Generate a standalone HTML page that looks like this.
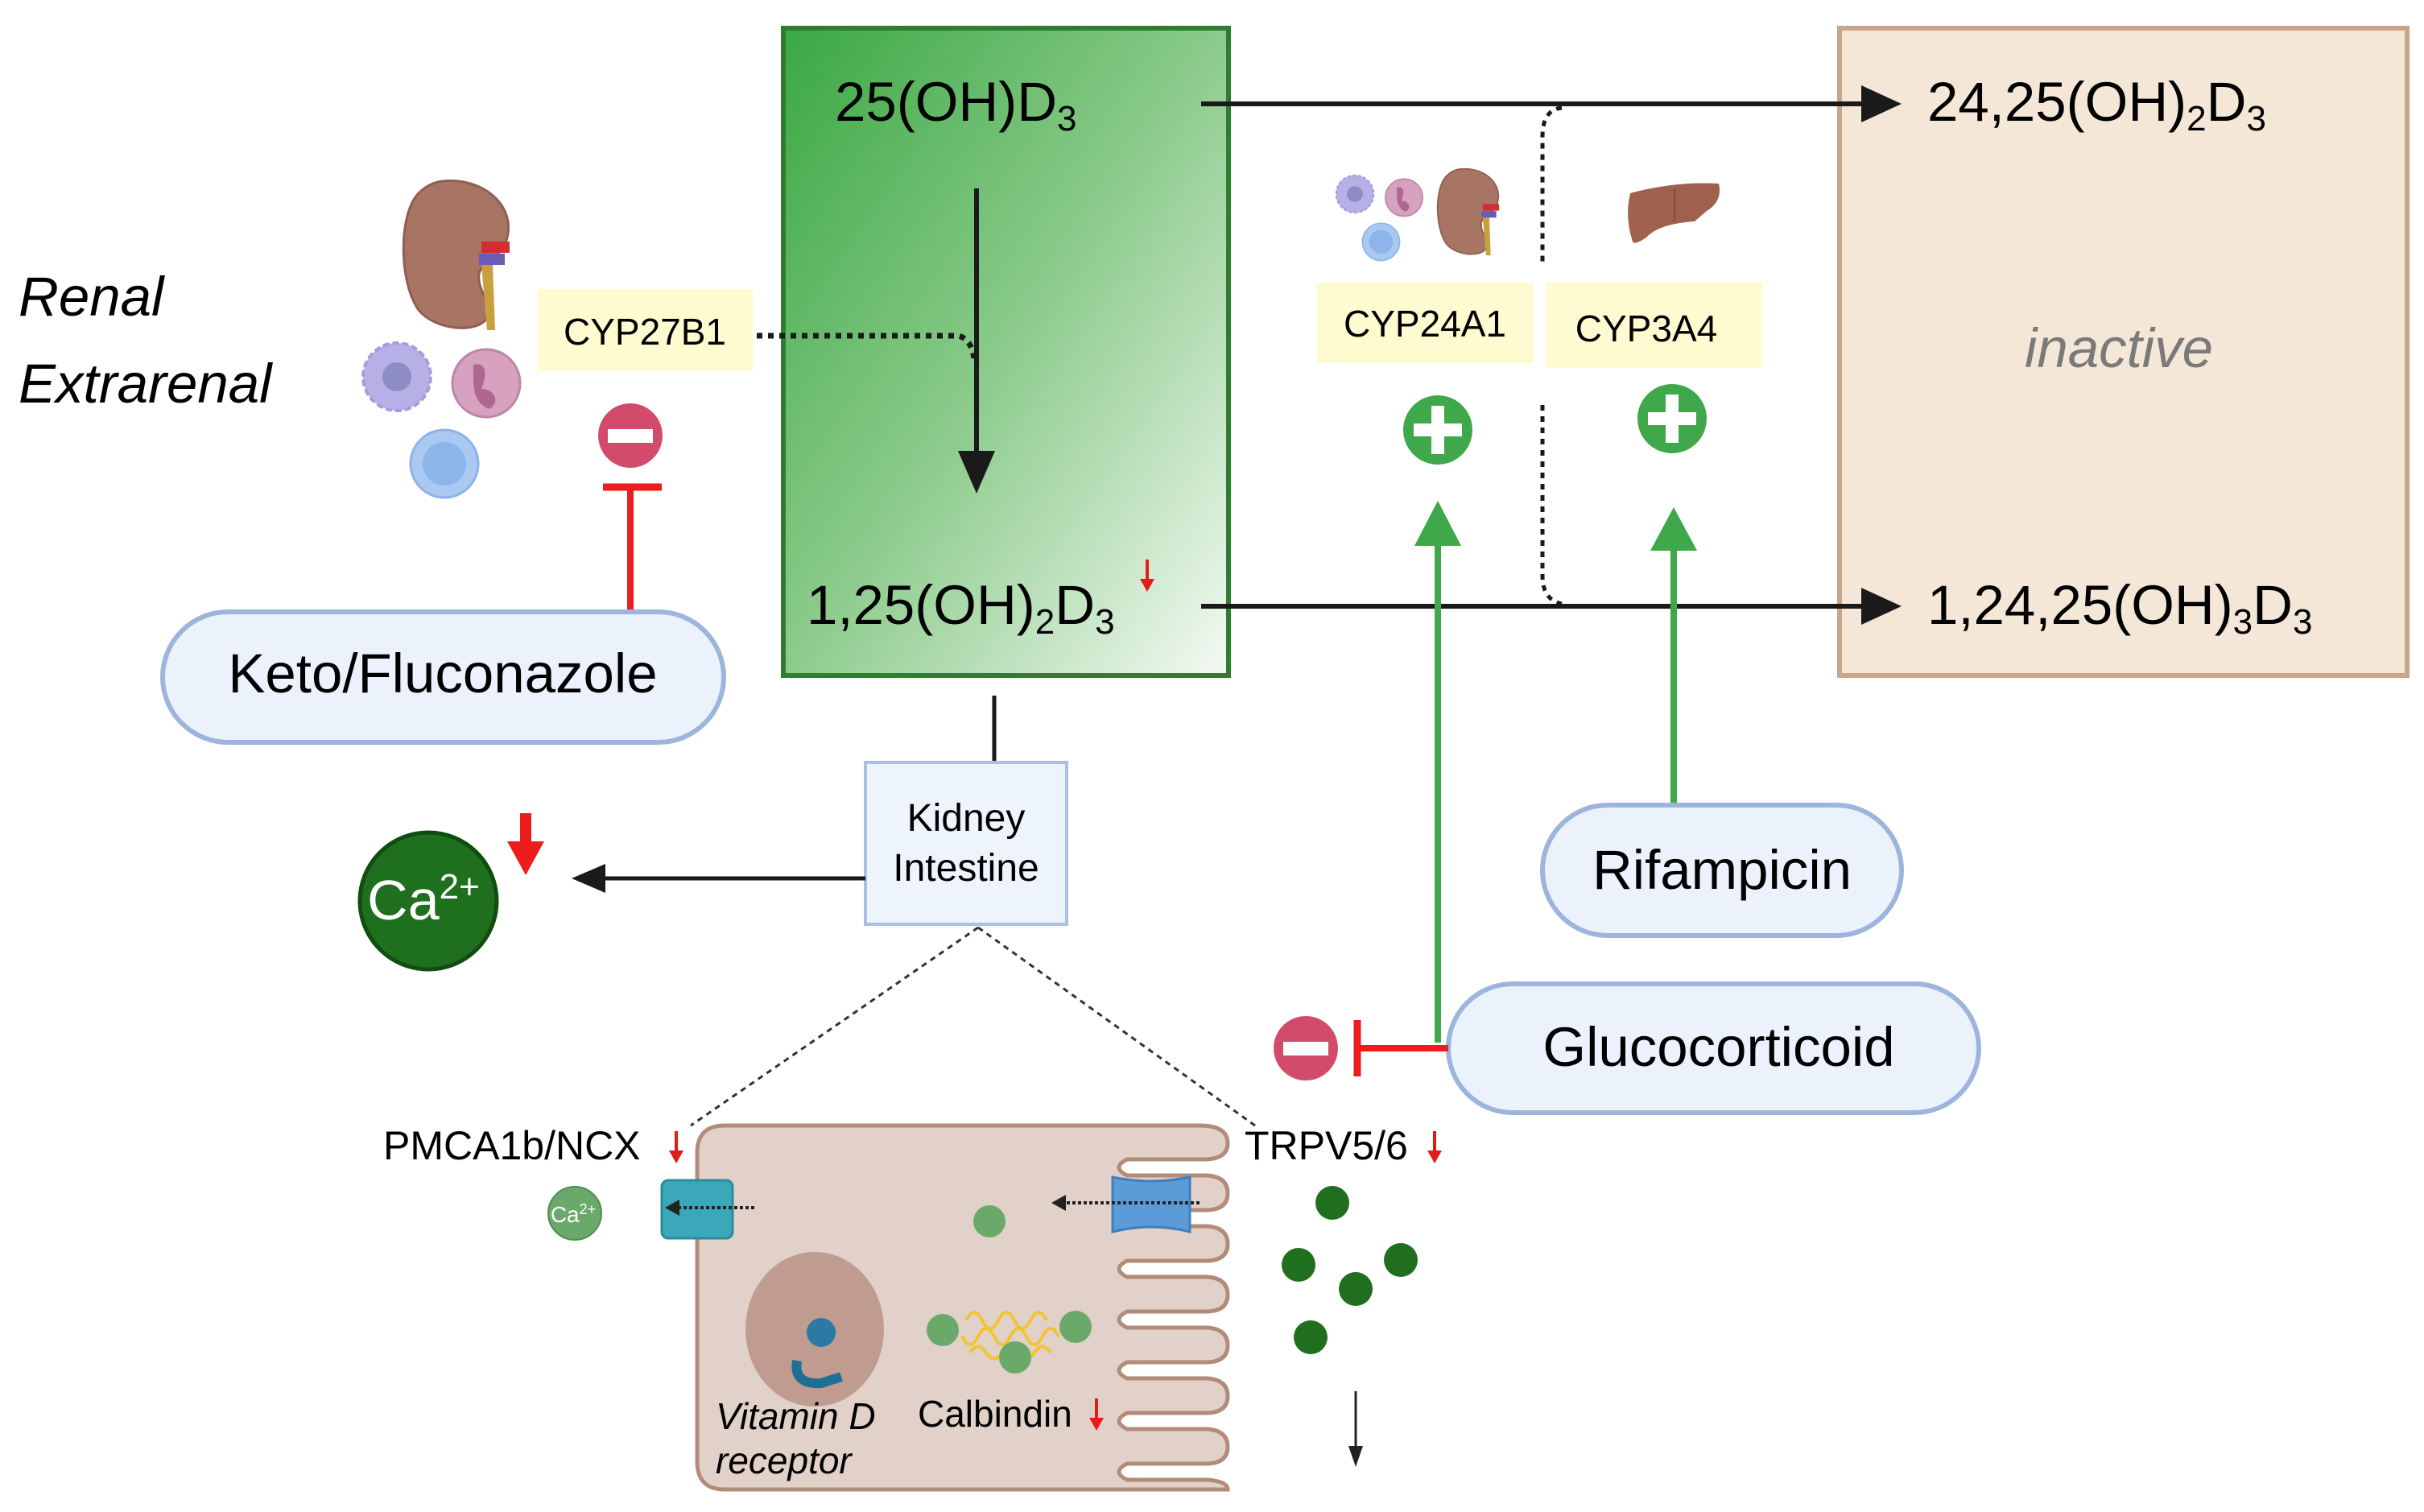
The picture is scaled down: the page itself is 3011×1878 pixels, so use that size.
<!DOCTYPE html>
<html><head><meta charset="utf-8"><style>
html,body{margin:0;padding:0;background:#fff}
svg{display:block}
text{font-family:"Liberation Sans",sans-serif}
</style></head><body>
<svg width="3011" height="1878" viewBox="0 0 3011 1878" xmlns="http://www.w3.org/2000/svg">
<defs>
<linearGradient id="gg" x1="0" y1="0" x2="1" y2="1">
<stop offset="0" stop-color="#3aa843"/><stop offset="0.5" stop-color="#8ccb8c"/><stop offset="1" stop-color="#f4faf3"/>
</linearGradient>
<g id="kid">
<path d="M50,0 C100,-5 140,30 130,70 C125,95 100,95 95,115 C92,140 115,150 105,170 C92,190 40,185 20,160 C-5,125 -5,40 20,15 C30,5 40,1 50,0Z" fill="#a87565" stroke="#8f5e50" stroke-width="3"/>
<rect x="98" y="75" width="35" height="14" fill="#d52b32"/>
<rect x="95" y="90" width="32" height="14" fill="#6a5bb5"/>
<path d="M98,104 L112,104 L115,185 L105,185Z" fill="#c9a13c"/>
</g>
<g id="cells">
<circle cx="0" cy="0" r="42" fill="#b6b0e6" stroke="#a39ddc" stroke-width="4" stroke-dasharray="8 4"/>
<circle cx="0" cy="0" r="18" fill="#8e8cc4"/>
<circle cx="111" cy="8" r="42" fill="#d7a1c0" stroke="#bd85a6" stroke-width="3"/>
<path d="M95,-15 C115,-20 110,5 105,15 C120,15 130,30 115,40 C100,35 95,20 95,5Z" fill="#b0678f"/>
<circle cx="59" cy="108" r="42" fill="#a9c9f0" stroke="#8fb3e6" stroke-width="3"/>
<circle cx="59" cy="108" r="27" fill="#8db5ea"/>
</g>
<g id="rdown">
<line x1="0" y1="0" x2="0" y2="30" stroke="#e21b1b" stroke-width="4"/>
<polygon points="-9,24 9,24 0,40" fill="#e21b1b"/>
</g>
</defs>

<!-- tan box -->
<rect x="2285" y="35" width="705" height="804" fill="#f5e7d7" stroke="#c7a68c" stroke-width="6"/>

<!-- Green box -->
<rect x="973" y="35" width="553" height="804" fill="url(#gg)" stroke="#2f7d30" stroke-width="6"/>
<text x="1037" y="150" font-size="69">25(OH)D<tspan font-size="44" dy="12">3</tspan></text>
<line x1="1213" y1="234" x2="1213" y2="570" stroke="#1a1a1a" stroke-width="6"/>
<polygon points="1190,560 1236,560 1213,613" fill="#1a1a1a"/>
<text x="1002" y="775" font-size="69">1,25(OH)<tspan font-size="44" dy="12">2</tspan><tspan dy="-12">D</tspan><tspan font-size="44" dy="12">3</tspan></text>
<use href="#rdown" x="1425" y="695"/>

<!-- CYP27B1 -->
<rect x="668" y="359" width="267" height="102" fill="#fffbd0"/>
<text x="801" y="428" font-size="46" text-anchor="middle">CYP27B1</text>
<path d="M940,417 L1190,417 Q1206,420 1210,445" fill="none" stroke="#1a1a1a" stroke-width="7" stroke-dasharray="7 7"/>

<text x="23" y="392" font-size="69" font-style="italic">Renal</text>
<text x="23" y="500" font-size="69" font-style="italic">Extrarenal</text>
<use href="#kid" x="500" y="225"/>
<use href="#cells" x="493" y="468"/>

<!-- keto inhibit -->
<circle cx="783" cy="541" r="40" fill="#d24b6b"/>
<rect x="755" y="533" width="56" height="17" fill="#fff"/>
<line x1="749" y1="605" x2="822" y2="605" stroke="#ee1c1c" stroke-width="9"/>
<line x1="783" y1="605" x2="783" y2="760" stroke="#ee1c1c" stroke-width="8"/>
<rect x="202" y="760" width="697" height="162" rx="81" fill="#ebf2fc" stroke="#9db4dc" stroke-width="6"/>
<text x="550" y="860" font-size="69" text-anchor="middle">Keto/Fluconazole</text>

<!-- Horizontal arrows -->
<line x1="1492" y1="129" x2="2320" y2="129" stroke="#1a1a1a" stroke-width="6"/>
<polygon points="2312,106 2362,129 2312,152" fill="#1a1a1a"/>
<line x1="1492" y1="753" x2="2320" y2="753" stroke="#1a1a1a" stroke-width="6"/>
<polygon points="2312,730 2362,753 2312,776" fill="#1a1a1a"/>
<path d="M1940,134 Q1916,136 1916,170 L1916,326 M1916,503 L1916,715 Q1916,745 1940,750" fill="none" stroke="#1a1a1a" stroke-width="5" stroke-dasharray="7 7"/>

<text x="2394" y="150" font-size="69">24,25(OH)<tspan font-size="44" dy="12">2</tspan><tspan dy="-12">D</tspan><tspan font-size="44" dy="12">3</tspan></text>
<text x="2394" y="775" font-size="69">1,24,25(OH)<tspan font-size="44" dy="12">3</tspan><tspan dy="-12">D</tspan><tspan font-size="44" dy="12">3</tspan></text>
<text x="2632" y="456" font-size="69" font-style="italic" fill="#7a7a7a" text-anchor="middle">inactive</text>

<!-- CYP24A1/3A4 -->
<use href="#cells" transform="translate(1683 241) scale(0.55)"/>
<use href="#kid" transform="translate(1785 210) scale(0.58)"/>
<path d="M2025,240 Q2080,225 2135,228 Q2140,250 2120,262 L2105,275 Q2060,278 2045,295 Q2030,305 2028,300 Q2018,270 2025,240Z" fill="#a0604e"/>
<line x1="2080" y1="235" x2="2080" y2="275" stroke="#8a4e3f" stroke-width="3"/>
<rect x="1636" y="351" width="269" height="100" fill="#fffbd0"/>
<text x="1770" y="418" font-size="46" text-anchor="middle">CYP24A1</text>
<rect x="1920" y="351" width="269" height="106" fill="#fffbd0"/>
<text x="2045" y="424" font-size="46" text-anchor="middle">CYP3A4</text>
<circle cx="1786" cy="534" r="43" fill="#3ea84a"/>
<rect x="1778" y="504" width="16" height="60" fill="#fff"/><rect x="1756" y="526" width="60" height="16" fill="#fff"/>
<circle cx="2077" cy="520" r="43" fill="#3ea84a"/>
<rect x="2069" y="490" width="16" height="60" fill="#fff"/><rect x="2047" y="512" width="60" height="16" fill="#fff"/>
<line x1="1786" y1="670" x2="1786" y2="1295" stroke="#3ea84a" stroke-width="8"/>
<polygon points="1757,678 1815,678 1786,622" fill="#3ea84a"/>
<line x1="2079" y1="680" x2="2079" y2="1000" stroke="#3ea84a" stroke-width="8"/>
<polygon points="2050,684 2108,684 2079,630" fill="#3ea84a"/>

<rect x="1916" y="1000" width="446" height="162" rx="81" fill="#ebf2fc" stroke="#9db4dc" stroke-width="6"/>
<text x="2139" y="1104" font-size="69" text-anchor="middle">Rifampicin</text>
<rect x="1799" y="1222" width="659" height="160" rx="80" fill="#ebf2fc" stroke="#9db4dc" stroke-width="6"/>
<text x="2135" y="1324" font-size="69" text-anchor="middle">Glucocorticoid</text>
<circle cx="1622" cy="1302" r="40" fill="#d24b6b"/>
<rect x="1594" y="1294" width="56" height="17" fill="#fff"/>
<line x1="1686" y1="1267" x2="1686" y2="1337" stroke="#ee1c1c" stroke-width="9"/>
<line x1="1686" y1="1302" x2="1799" y2="1302" stroke="#ee1c1c" stroke-width="8"/>

<!-- Kidney intestine -->
<line x1="1235" y1="864" x2="1235" y2="947" stroke="#1a1a1a" stroke-width="5"/>
<rect x="1075" y="947" width="250" height="201" fill="#eef4fc" stroke="#a9c0e3" stroke-width="4"/>
<text x="1200" y="1032" font-size="48" text-anchor="middle">Kidney</text>
<text x="1200" y="1094" font-size="48" text-anchor="middle">Intestine</text>
<line x1="1075" y1="1091" x2="745" y2="1091" stroke="#1a1a1a" stroke-width="5"/>
<polygon points="752,1073 710,1091 752,1109" fill="#1a1a1a"/>
<circle cx="532" cy="1119" r="85" fill="#1e6f1e" stroke="#0f4d10" stroke-width="5"/>
<text x="526" y="1142" font-size="70" fill="#fff" text-anchor="middle">Ca<tspan font-size="44" dy="-26">2+</tspan></text>
<line x1="653" y1="1010" x2="653" y2="1050" stroke="#ee1c1c" stroke-width="14"/>
<polygon points="630,1045 676,1045 653,1087" fill="#ee1c1c"/>
<line x1="1215" y1="1152" x2="858" y2="1398" stroke="#333" stroke-width="3" stroke-dasharray="7 6"/>
<line x1="1215" y1="1152" x2="1559" y2="1398" stroke="#333" stroke-width="3" stroke-dasharray="7 6"/>

<!-- Cell -->
<path d="M900,1398 L1490,1398 Q1525,1398 1525,1420 Q1525,1440 1495,1440 L1400,1440 Q1380,1450 1400,1460 L1500,1460 Q1525,1462 1525,1482 Q1525,1502 1500,1503 L1400,1503 Q1380,1513 1400,1523 L1500,1523 Q1525,1525 1525,1545 Q1525,1565 1500,1566 L1400,1566 Q1380,1576 1400,1586 L1500,1586 Q1525,1588 1525,1608 Q1525,1628 1500,1629 L1400,1629 Q1380,1639 1400,1649 L1500,1649 Q1525,1651 1525,1671 Q1525,1691 1500,1692 L1400,1692 Q1380,1702 1400,1712 L1500,1712 Q1525,1714 1525,1734 Q1525,1754 1500,1755 L1400,1755 Q1380,1765 1400,1775 L1500,1775 Q1525,1777 1525,1797 Q1525,1817 1500,1818 L1400,1818 Q1380,1828 1400,1838 L1500,1838 Q1525,1840 1525,1850 L900,1850 Q866,1850 866,1815 L866,1432 Q866,1398 900,1398Z" fill="#e1d1c8" stroke="#b38b79" stroke-width="5"/>
<ellipse cx="1012" cy="1651" rx="86" ry="96" fill="#bf9c8f"/>
<path d="M990,1690 Q985,1720 1020,1718 L1045,1710" fill="none" stroke="#1f6f95" stroke-width="12"/>
<circle cx="1020" cy="1655" r="18" fill="#2a7aa3"/>
<text x="476" y="1440" font-size="50">PMCA1b/NCX</text>
<use href="#rdown" x="840" y="1405"/>
<text x="1546" y="1440" font-size="50">TRPV5/6</text>
<use href="#rdown" x="1782" y="1405"/>
<rect x="822" y="1466" width="88" height="72" rx="8" fill="#3aa8b8" stroke="#2a8b99" stroke-width="3"/>
<path d="M1382,1462 Q1430,1472 1478,1462 L1478,1530 Q1430,1518 1382,1530Z" fill="#5b9bd8" stroke="#3f7fbf" stroke-width="3"/>
<line x1="937" y1="1500" x2="840" y2="1500" stroke="#222" stroke-width="4" stroke-dasharray="4 3"/>
<polygon points="844,1490 826,1500 844,1510" fill="#222"/>
<line x1="1490" y1="1494" x2="1320" y2="1494" stroke="#222" stroke-width="4" stroke-dasharray="4 3"/>
<polygon points="1324,1484 1306,1494 1324,1504" fill="#222"/>
<circle cx="714" cy="1507" r="33" fill="#6aa96a" stroke="#4f8f4f" stroke-width="2"/>
<text x="712" y="1518" font-size="28" fill="#fff" text-anchor="middle">Ca<tspan font-size="18" dy="-10">2+</tspan></text>
<circle cx="1229" cy="1517" r="20" fill="#6aa96a"/>
<path d="M1200,1640 q10,-20 20,0 t20,0 t20,0 t20,0 t20,0 M1195,1660 q10,20 20,0 t20,0 t20,0 t20,0 t20,0 t20,0 M1205,1680 q10,-15 20,0 t20,0 t20,0 t20,0 t20,0" fill="none" stroke="#f2c431" stroke-width="4"/>
<circle cx="1171" cy="1652" r="20" fill="#6aa96a"/>
<circle cx="1336" cy="1648" r="20" fill="#6aa96a"/>
<circle cx="1261" cy="1686" r="20" fill="#6aa96a"/>
<g fill="#1f6f1f">
<circle cx="1655" cy="1494" r="21"/><circle cx="1613" cy="1571" r="21"/><circle cx="1740" cy="1565" r="21"/><circle cx="1684" cy="1601" r="21"/><circle cx="1628" cy="1661" r="21"/>
</g>
<text x="889" y="1775" font-size="46" font-style="italic">Vitamin D</text>
<text x="889" y="1830" font-size="46" font-style="italic">receptor</text>
<text x="1140" y="1772" font-size="46">Calbindin</text>
<use href="#rdown" x="1362" y="1737"/>
<line x1="1684" y1="1728" x2="1684" y2="1800" stroke="#222" stroke-width="3"/>
<polygon points="1675,1796 1693,1796 1684,1822" fill="#222"/>
</svg>
</body></html>
